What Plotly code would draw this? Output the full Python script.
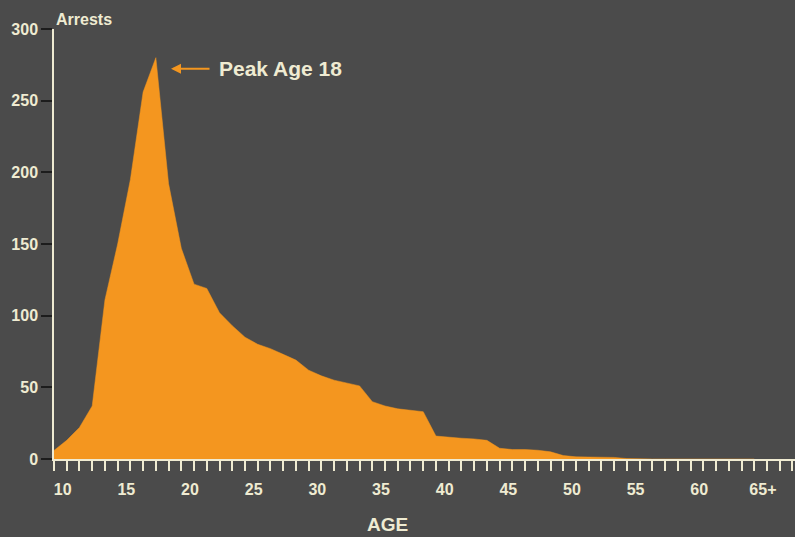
import plotly.graph_objects as go

ages = list(range(10, 66))  # 65 represents "65+"
arrests = [6, 13, 22, 37, 111, 150, 195, 256, 280, 192, 147, 122, 119, 102, 93, 85,
           80, 77, 73, 69, 62, 58, 55, 53, 51, 40, 37, 35, 34, 33, 16, 15, 14.5, 14,
           13, 7.5, 6.6, 6.6, 6.1, 5, 2.4, 1.5, 1.5, 1.5, 1.1, 0.3,
           0, 0, 0, 0, 0, 0, 0, 0, 0, 0]
label_ages = [10, 15, 20, 25, 30, 35, 40, 45, 50, 55, 60, 65]
label_text = ["10", "15", "20", "25", "30", "35", "40", "45", "50", "55", "60", "65+"]
y_ticks = [0, 50, 100, 150, 200, 250, 300]

BG = "#4b4b4b"
ORANGE = "#f4961f"
CREAM = "#efebd2"
FONT = "Liberation Sans, Arial, sans-serif"

fig = go.Figure()
fig.add_trace(go.Scatter(
    x=ages, y=arrests, mode="lines", fill="tozeroy",
    line=dict(color=ORANGE, width=0.5), fillcolor=ORANGE,
    hoverinfo="skip", showlegend=False,
))

fig.update_layout(
    width=795, height=537,
    paper_bgcolor=BG, plot_bgcolor=BG,
    margin=dict(l=54, r=0, t=29, b=78),
    font=dict(family=FONT, color=CREAM),
    xaxis=dict(
        range=[10, 68.2],
        tickmode="array",
        tickvals=[a + 0.68 for a in label_ages],
        ticktext=["<b>%s</b>" % t for t in label_text],
        ticks="",
        tickfont=dict(size=16, color=CREAM, family=FONT),
        showgrid=False, zeroline=False,
        showline=True, linecolor=CREAM, linewidth=1.5,
        layer="above traces",
        ticklabelstandoff=15,
        minor=dict(tickmode="array", tickvals=list(range(10, 69)),
                   ticks="outside", ticklen=10, tickwidth=1.5, tickcolor=CREAM,
                   showgrid=False),
    ),
    yaxis=dict(
        range=[0, 300],
        tickmode="array",
        tickvals=y_ticks,
        ticktext=["<b>%d</b>" % v for v in y_ticks],
        ticks="outside", ticklen=11, tickwidth=1.5, tickcolor="#1c1c1c",
        tickfont=dict(size=16, color=CREAM, family=FONT),
        showgrid=False, zeroline=False,
        showline=True, linecolor=CREAM, linewidth=1.5,
        layer="above traces",
    ),
)

# arrow
fig.add_annotation(
    x=19.19, y=272.3, xref="x", yref="y", text="",
    showarrow=True, ax=40, ay=0, axref="pixel", ayref="pixel",
    arrowhead=2, arrowsize=1, arrowwidth=2, arrowcolor=ORANGE,
)
fig.add_annotation(
    x=22.8, y=272.3, xref="x", yref="y", text="<b>Peak Age 18</b>",
    showarrow=False, xanchor="left", yanchor="middle",
    font=dict(size=21, color=CREAM, family=FONT),
)
fig.add_annotation(
    x=0, y=1, xref="paper", yref="paper", text="<b>Arrests</b>",
    showarrow=False, xanchor="left", yanchor="middle", yshift=10,
    font=dict(size=16, color=CREAM, family=FONT),
)
fig.add_annotation(
    x=0.4507, y=0, xref="paper", yref="paper", text="<b>AGE</b>",
    showarrow=False, xanchor="center", yanchor="middle", yshift=-65,
    font=dict(size=19, color=CREAM, family=FONT),
)

fig.write_html(
    "out.html",
    config={"displayModeBar": False},
    post_script="document.body.style.margin='0';document.body.style.padding='0';",
)
